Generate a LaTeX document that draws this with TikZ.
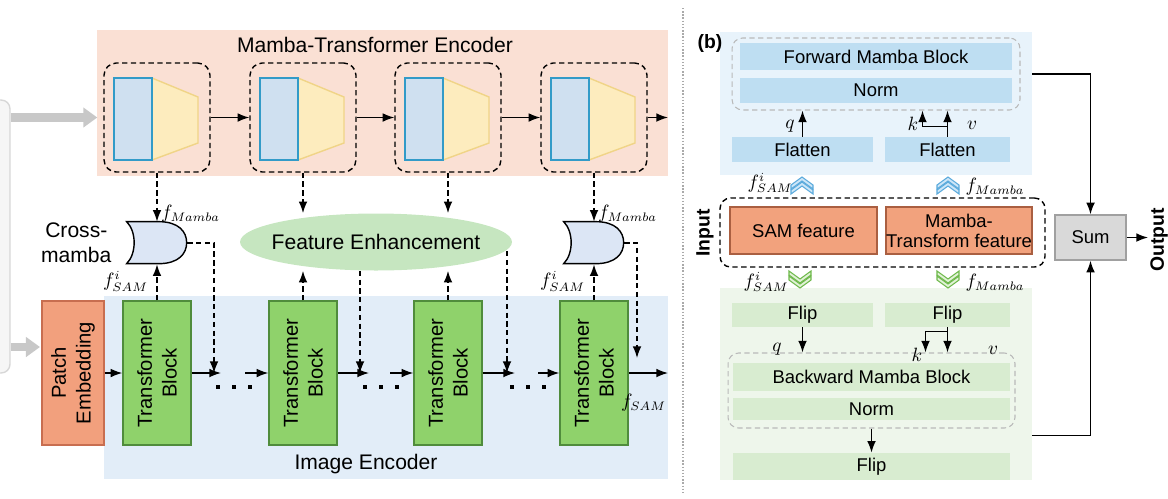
\documentclass[tikz,border=0pt]{standalone}
\usepackage{fontspec}
\setmainfont{Liberation Sans}
\usepackage{tikz}
\usetikzlibrary{arrows.meta,positioning,calc,shapes.geometric}
\definecolor{encbg}{RGB}{250,224,212}
\definecolor{imgbg}{RGB}{226,237,248}
\definecolor{patchfill}{RGB}{242,160,125}
\definecolor{patchedge}{RGB}{200,110,80}
\definecolor{tbfill}{RGB}{143,210,107}
\definecolor{tbedge}{RGB}{80,140,60}
\definecolor{mbfill}{RGB}{207,224,240}
\definecolor{mbedge}{RGB}{50,155,200}
\definecolor{trfill}{RGB}{253,236,190}
\definecolor{tredge}{RGB}{240,212,135}
\definecolor{cmfill}{RGB}{220,230,245}
\definecolor{fefill}{RGB}{198,230,192}
\definecolor{srcfill}{RGB}{246,246,246}
\definecolor{srcedge}{RGB}{215,215,215}
\definecolor{arrgray}{RGB}{200,200,200}
\definecolor{topbg}{RGB}{232,243,251}
\definecolor{topbar}{RGB}{190,222,242}
\definecolor{botbg}{RGB}{238,246,235}
\definecolor{botbar}{RGB}{216,236,208}
\definecolor{featfill}{RGB}{242,162,125}
\definecolor{featedge}{RGB}{170,95,65}
\definecolor{sumfill}{RGB}{217,217,217}
\definecolor{sumedge}{RGB}{160,160,160}
\definecolor{chupfill}{RGB}{205,230,248}
\definecolor{chupedge}{RGB}{90,170,220}
\definecolor{chdnfill}{RGB}{225,242,215}
\definecolor{chdnedge}{RGB}{110,185,75}
\definecolor{sepgray}{RGB}{170,170,170}

\begin{document}
\begin{tikzpicture}[>=Latex, x=0.02cm, y=-0.02cm,
  every node/.style={font=\fontsize{12}{14}\selectfont},
  rfont/.style={font=\fontsize{10.5}{11.5}\selectfont},
  bfont/.style={font=\fontsize{11}{13}\selectfont\bfseries},
  mlbl/.style={font=\fontsize{10.5}{12}\selectfont, inner sep=1pt},
  flow/.style={thick, ->},
  dflow/.style={thick, densely dashed, ->},
  grayflow/.style={draw=arrgray, line width=5pt, -{Triangle[length=8pt, width=11pt]}},
  mbox/.style={draw, thick, densely dashed, rounded corners=7pt, minimum width=2.12cm, minimum height=2.18cm},
  tblock/.style={draw=tbedge, fill=tbfill, thick, rotate=90, align=center, inner sep=0, minimum width=2.88cm, minimum height=1.36cm, font=\fontsize{11.5}{14}\selectfont},
  pblock/.style={draw=patchedge, fill=patchfill, thick, rotate=90, align=center, inner sep=0, minimum width=2.88cm, minimum height=1.24cm, font=\fontsize{11.5}{14}\selectfont},
  gbox/.style={draw=gray!55, semithick, densely dashed, rounded corners=6pt},
  bluebar/.style={fill=topbar, inner sep=0, rfont},
  greenbar/.style={fill=botbar, inner sep=0, rfont},
  feat/.style={draw=featedge, fill=featfill, thick, inner sep=0, align=center, minimum height=0.94cm, rfont}]

\useasboundingbox (0,0) rectangle (1168,498);
\clip (0,0) rectangle (1168,498);
\fill[encbg] (97,30) rectangle (668,176);
\fill[imgbg] (104,296) rectangle (668,479);
\node (enctitle) at (375,45) {Mamba-Transformer Encoder};
\node (imgtitle) at (366,464) {Image Encoder};
\node[draw=srcedge, fill=srcfill, thick, rounded corners=5pt, minimum width=0.5cm, minimum height=5.46cm] (src) at (-2.5,236.5) {};

\foreach \i/\cx in {1/157,2/303,3/448,4/594} {
  \node[mbox] (mb\i) at (\cx,117.5) {};
  \filldraw[fill=trfill, draw=tredge, thick] (\cx-5,78) -- (\cx+41,97) -- (\cx+41,143) -- (\cx-5,160) -- cycle;
  \filldraw[fill=mbfill, draw=mbedge, thick] (\cx-43,78) rectangle (\cx-5,160);
  \node[tblock] (tb\i) at (\cx,373) {Transformer\\Block};
}
\foreach \i/\j in {1/2,2/3,3/4}
  \draw[flow] (mb\i) -- (mb\j);
\coordinate (encout) at (668,117.5);
\draw[flow] (mb4) -- (encout);

\node[pblock] (pe) at (73,373) {Patch\\Embedding};
\draw[grayflow] (src.east |- mb1) -- ($(mb1.west)+(-6,0)$);
\draw[grayflow] ($(src.east |- pe)+(0,-26)$) -- ($(pe)+(-33,-26)$);

\foreach \i/\cx in {1/157,2/594} {
  \node[inner sep=0, minimum width=1.2cm, minimum height=0.84cm] (cm\i) at (\cx,243) {};
  \filldraw[fill=cmfill, thick] (cm\i.north west) -- ++(32,0) .. controls +(20,0) and +(0,-11) .. ++(28,21) .. controls +(0,11) and +(20,0) .. ++(-28,21) -- ++(-32,0) .. controls +(10,-10) and +(10,10) .. (cm\i.north west) -- cycle;
  \node[mlbl, above right=-0.06cm and 0.04cm of cm\i.north] {$f_{Mamba}$};
  \node[mlbl, below left=0.1cm and 0.14cm of cm\i.south] {$f_{SAM}^{i}$};
}
\node[align=center, left=0.18cm of cm1] (cmlbl) {Cross-\\mamba};

\node[ellipse, fill=fefill, inner sep=0, minimum width=5.44cm, minimum height=1.14cm] (fe) at (376,242) {};
\node (fetext) at (fe) {Feature Enhancement};

\coordinate (m1) at (214,373);
\coordinate (m2) at (360,373);
\coordinate (m3) at (507,373);
\coordinate (m4) at (637,358);
\draw[dflow] (mb1) -- (cm1);
\draw[dflow] (tb1) -- (cm1);
\draw[dflow] (mb4) -- (cm2);
\draw[dflow] (tb4) -- (cm2);
\draw[dflow] (mb2.south) -- (mb2.south |- fe.north);
\draw[dflow] (mb3.south) -- (mb3.south |- fe.north);
\draw[dflow] (tb2.east) -- (tb2.east |- fe.south);
\draw[dflow] (tb3.east) -- (tb3.east |- fe.south);
\draw[dflow] (cm1.east) -| (m1);
\draw[dflow] (fe.south -| m2) -- (m2);
\draw[dflow] (fe.-4 -| m3) -- (m3);
\draw[dflow] (cm2.east) -| (m4);

\coordinate (j1) at (221,373);
\coordinate (j2) at (369,373);
\coordinate (j3) at (515,373);
\coordinate (s1) at (245,373);
\coordinate (s2) at (390,373);
\coordinate (s3) at (538,373);
\coordinate (fsam) at (668,373);
\draw[flow] (pe) -- (tb1);
\foreach \i/\j in {1/2,2/3,3/4} {
  \draw[flow] (tb\i) -- (j\i);
  \draw[flow] (s\i) -- (tb\j);
}
\draw[flow] (tb4) -- (fsam);
\node[mlbl, below left=0.38cm and 0cm of fsam] {$f_{SAM}$};
\foreach \x in {218,234,250,365,381,397,512,528,544}
  \fill (\x-2,385) rectangle ++(4,4);

\draw[sepgray, thick, densely dotted] (683,8) -- (683,492);

\node[fill=topbg, inner sep=0, minimum width=6.24cm, minimum height=2.86cm] (bgtop) at (876,103.5) {};
\node[fill=botbg, inner sep=0, minimum width=6.24cm, minimum height=3.84cm] (bgbot) at (876,384) {};
\node[bfont] (blbl) at (710,43) {(b)};

\node[gbox, minimum width=5.76cm, minimum height=1.44cm] (fbox) at (876,74) {};
\node[bluebar, minimum width=5.44cm, minimum height=0.54cm] (fmb) at (876,56.5) {Forward Mamba Block};
\node[bluebar, minimum width=5.44cm, minimum height=0.5cm, below=0.14cm of fmb] (fnorm) {Norm};
\node[bluebar, minimum width=2.82cm, minimum height=0.5cm] (fl1) at (802.5,149.5) {Flatten};
\node[bluebar, minimum width=2.5cm, minimum height=0.5cm] (fl2) at (947.5,149.5) {Flatten};
\draw[flow] (fl1.north) -- (fl1.north |- fbox.south);
\draw[flow] (fl2.north) -- (fl2.north |- fbox.south);
\draw[flow] ($(fl2.north)+(0,-10)$) -| ($(fl2.north |- fbox.south)+(-25,0)$);
\node[mlbl] at (790,126) {$q$};
\node[mlbl] at (913,124) {$k$};
\node[mlbl] at (972,125) {$v$};

\foreach \cx/\cy in {802/185, 948/185}
  \foreach \a in {0,5}
    \filldraw[fill=chupfill, draw=chupedge, line width=0.6pt] (\cx-11,\cy+\a) -- (\cx,\cy+\a-8) -- (\cx+11,\cy+\a) -- (\cx+11,\cy+\a+4) -- (\cx,\cy+\a-4) -- (\cx-11,\cy+\a+4) -- cycle;
\node[mlbl] (upsam) at (770,183) {$f_{SAM}^{i}$};
\node[mlbl] (upmamba) at (995,187) {$f_{Mamba}$};

\node[draw, thick, densely dashed, rounded corners=6pt, minimum width=6.5cm, minimum height=1.38cm] (inbox) at (882.5,232.5) {};
\node[feat, minimum width=2.94cm] (samf) at (803.5,230.5) {SAM feature};
\node[feat, minimum width=2.92cm] (mtf) at (959,230.5) {Mamba-\\Transform feature};
\node[bfont, rotate=90] (inlbl) at (705,233) {Input};

\foreach \cx/\cy in {800/280, 948/280}
  \foreach \a in {0,5}
    \filldraw[fill=chdnfill, draw=chdnedge, line width=0.6pt] (\cx-11,\cy-\a) -- (\cx,\cy-\a+8) -- (\cx+11,\cy-\a) -- (\cx+11,\cy-\a-4) -- (\cx,\cy-\a+4) -- (\cx-11,\cy-\a-4) -- cycle;
\node[mlbl] (dnsam) at (766,282) {$f_{SAM}^{i}$};
\node[mlbl] (dnmamba) at (995,283) {$f_{Mamba}$};

\node[greenbar, minimum width=2.82cm, minimum height=0.48cm] (fp1) at (802.5,315) {Flip};
\node[greenbar, minimum width=2.5cm, minimum height=0.48cm] (fp2) at (947.5,315) {Flip};
\node[gbox, minimum width=5.74cm, minimum height=1.5cm] (bbox) at (871.5,390.5) {};
\node[greenbar, minimum width=5.54cm, minimum height=0.56cm] (bmb) at (871.5,377) {Backward Mamba Block};
\node[greenbar, minimum width=5.54cm, minimum height=0.44cm] (bnorm) at (871.5,409) {Norm};
\node[greenbar, minimum width=5.56cm, minimum height=0.54cm] (fp3) at (871.5,466.5) {Flip};
\draw[flow] (fp1.south) -- (fp1.south |- bbox.north);
\draw[flow] (fp2.south) -- (fp2.south |- bbox.north);
\draw[flow] ($(fp2.south)+(0,4)$) -| ($(fp2.south |- bbox.north)+(-22,0)$);
\draw[flow] (bbox) -- (fp3);
\node[mlbl] at (777,349) {$q$};
\node[mlbl] at (917,355) {$k$};
\node[mlbl] at (993,350) {$v$};

\node[draw=sumedge, fill=sumfill, thick, rfont, minimum width=1.42cm, minimum height=0.9cm] (sum) at (1090.5,237.5) {Sum};
\coordinate (outp) at (1148,237.5);
\draw[flow] (sum) -- (outp);
\node[bfont, rotate=90] (outlbl) at (1159,240) {Output};
\draw[flow] (bgtop.east |- fbox) -| (sum);
\draw[flow] ($(bgbot.east |- bbox.south)+(0,7)$) -| (sum);
\end{tikzpicture}
\end{document}
